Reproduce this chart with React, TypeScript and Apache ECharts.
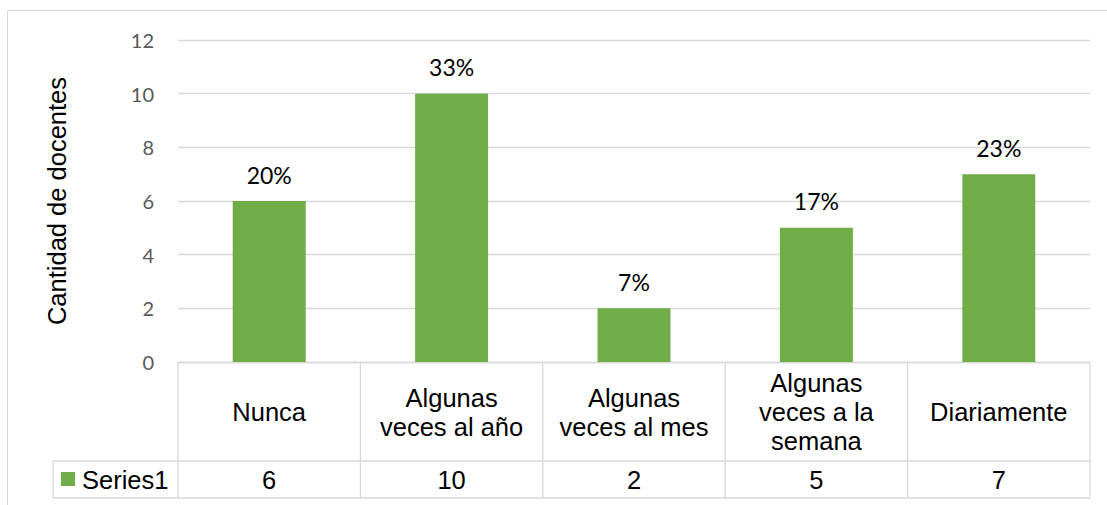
import React, { useEffect, useRef } from "react";
import * as echarts from "echarts";

const categories = [
  "Nunca",
  "Algunas\nveces al año",
  "Algunas\nveces al mes",
  "Algunas\nveces a la\nsemana",
  "Diariamente",
];
const seriesName = "Series1";
const values = [6, 10, 2, 5, 7];
const yTicks = { min: 0, max: 12, interval: 2 };

const W = 1107;
const H = 505;
const GRID_LEFT = 178;
const GRID_RIGHT_X = 1090;
const GRID_TOP = 40;
const AXIS_Y = 362;
const ROW_Y = 461;
const TABLE_BOTTOM = 498;
const TABLE_LEFT = 53;
const LINE_COLOR = "#D9D9D9";
const GREEN = "#70AD47";
const TABLE_FONT = "'Liberation Sans', Arial, sans-serif";
const TABLE_SIZE = 25.5;

export default function App() {
  const ref = useRef<HTMLDivElement>(null);
  useEffect(() => {
    if (!ref.current) return;
    const chart = echarts.init(ref.current, undefined, { renderer: "svg" });
    const total = values.reduce((a, b) => a + b, 0);
    const n = categories.length;
    const colW = (GRID_RIGHT_X - GRID_LEFT) / n;

    const lineStyle = { stroke: LINE_COLOR, lineWidth: 1.3 };
    const graphics: any[] = [
      {
        type: "rect",
        shape: { x: 7.5, y: 10.5, width: W + 20, height: H + 20 },
        style: { fill: "none", stroke: LINE_COLOR, lineWidth: 1 },
        silent: true,
      },
      { type: "line", shape: { x1: TABLE_LEFT, y1: ROW_Y, x2: GRID_RIGHT_X, y2: ROW_Y }, style: lineStyle },
      { type: "line", shape: { x1: TABLE_LEFT, y1: TABLE_BOTTOM, x2: GRID_RIGHT_X, y2: TABLE_BOTTOM }, style: lineStyle },
      { type: "line", shape: { x1: TABLE_LEFT, y1: ROW_Y, x2: TABLE_LEFT, y2: TABLE_BOTTOM }, style: lineStyle },
      {
        type: "rect",
        shape: { x: 61, y: 472, width: 14, height: 14 },
        style: { fill: GREEN },
      },
      {
        type: "text",
        x: 82,
        y: 480,
        style: {
          text: seriesName,
          fontSize: TABLE_SIZE,
          fontFamily: TABLE_FONT,
          fill: "#000",
          verticalAlign: "middle",
          align: "left",
        },
      },
    ];
    for (let i = 0; i <= n; i++) {
      const x = GRID_LEFT + i * colW;
      graphics.push({
        type: "line",
        shape: { x1: x, y1: AXIS_Y, x2: x, y2: TABLE_BOTTOM },
        style: lineStyle,
      });
    }

    chart.setOption({
      animation: false,
      grid: {
        left: GRID_LEFT,
        right: W - GRID_RIGHT_X,
        top: GRID_TOP,
        bottom: H - AXIS_Y,
        containLabel: false,
      },
      xAxis: [
        {
          type: "category",
          data: categories,
          position: "bottom",
          axisLine: { show: true, lineStyle: { color: LINE_COLOR, width: 1.3 } },
          axisTick: { show: false },
          axisLabel: {
            interval: 0,
            fontSize: TABLE_SIZE,
            fontFamily: TABLE_FONT,
            color: "#000",
            lineHeight: 29,
            verticalAlign: "middle",
            align: "center",
            margin: 50,
          },
        },
        {
          type: "category",
          data: values.map(String),
          position: "bottom",
          offset: 0,
          axisLine: { show: false },
          axisTick: { show: false },
          axisLabel: {
            interval: 0,
            fontSize: TABLE_SIZE,
            fontFamily: TABLE_FONT,
            color: "#000",
            verticalAlign: "middle",
            margin: 118,
          },
        },
      ],
      yAxis: {
        type: "value",
        min: yTicks.min,
        max: yTicks.max,
        interval: yTicks.interval,
        name: "Cantidad de docentes",
        nameLocation: "middle",
        nameGap: 108,
        nameTextStyle: {
          fontSize: TABLE_SIZE,
          fontFamily: TABLE_FONT,
          color: "#000",
        },
        axisLine: { show: false },
        axisTick: { show: false },
        splitLine: { lineStyle: { color: LINE_COLOR, width: 1.3 } },
        axisLabel: {
          fontSize: 20,
          fontFamily: "Lato, 'Open Sans', sans-serif",
          color: "#595959",
          margin: 24,
        },
      },
      series: [
        {
          type: "bar",
          name: seriesName,
          data: values,
          xAxisIndex: 0,
          barCategoryGap: "60%",
          itemStyle: { color: GREEN },
          label: {
            show: true,
            position: "top",
            distance: 15,
            fontSize: 23,
            fontFamily: "Lato, 'Open Sans', sans-serif",
            color: "#000",
            formatter: (p: any) => Math.round((p.value / total) * 100) + "%",
          },
        },
      ],
      graphic: graphics,
    });
    return () => chart.dispose();
  }, []);
  return (
    <div
      ref={ref}
      style={{ position: "fixed", left: 0, top: 0, width: W, height: H, background: "#fff" }}
    />
  );
}
